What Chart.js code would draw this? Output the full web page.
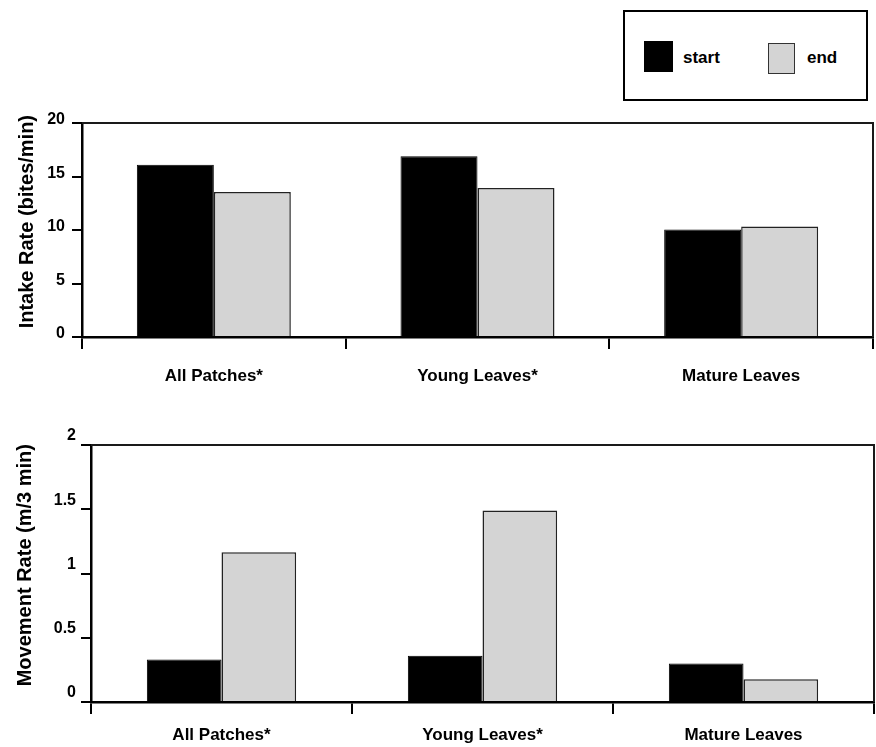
<!DOCTYPE html>
<html>
<head>
<meta charset="utf-8">
<script src="https://cdn.jsdelivr.net/npm/chart.js@4"></script>
<style>
  body { margin: 0; background: #fff; font-family: "Liberation Sans", Arial, Helvetica, sans-serif; }
  #page { position: relative; width: 876px; height: 747px; }
  canvas { position: absolute; left: 0; }
  #IntakeChart { top: 100px; }
  #MovementChart { top: 410px; }
  #legend { position: absolute; left: 623px; top: 10px; width: 245px; height: 91px;
            box-sizing: border-box; border: 2px solid #000; }
  .swatch { position: absolute; box-sizing: border-box; }
  .lbl { position: absolute; font-weight: bold; font-size: 17px; line-height: 20px; color: #000; }
</style>
</head>
<body>
<div id="page">
  <div id="legend"></div>
  <canvas id="IntakeChart" width="876" height="300"></canvas>
  <canvas id="MovementChart" width="876" height="337"></canvas>
</div>
<script>
const categories = ['All Patches*', 'Young Leaves*', 'Mature Leaves']
const seriesNames = ['start', 'end']
const intakeStart = [16.1, 16.9, 10.05]
const intakeEnd = [13.55, 13.93, 10.32]
const moveStart = [0.33, 0.36, 0.30]
const moveEnd = [1.165, 1.49, 0.177]
const intakeTicks = [0, 5, 10, 15, 20]
const moveTicks = [0, 0.5, 1, 1.5, 2]

Chart.defaults.font.family = '"Liberation Sans", Arial, Helvetica, sans-serif'
Chart.defaults.font.weight = 'bold'
Chart.defaults.color = '#000'

// top and right edge of the plot box
const framePlugin = {
    id: 'frame',
    afterDraw(chart) {
        const {ctx, chartArea} = chart
        ctx.save()
        ctx.strokeStyle = '#1a1a1a'
        ctx.lineWidth = 2
        ctx.beginPath()
        ctx.moveTo(chartArea.left, chartArea.top)
        ctx.lineTo(chartArea.right, chartArea.top)
        ctx.lineTo(chartArea.right, chartArea.bottom)
        ctx.stroke()
        ctx.restore()
    }
}

const makeChart = (element, startValues, endValues, tickValues, cfg) => {
    const ctl = document.getElementById(element)
    return new Chart(ctl, {
        type: 'bar',
        data: {
            labels: categories,
            datasets: [
                {
                    label: seriesNames[0],
                    data: startValues,
                    backgroundColor: '#000',
                    borderColor: '#000',
                    borderWidth: 1
                },
                {
                    label: seriesNames[1],
                    data: endValues,
                    backgroundColor: '#d4d4d4',
                    borderColor: '#222',
                    borderWidth: 1.5
                }
            ]
        },
        options: {
            responsive: false,
            animation: false,
            categoryPercentage: cfg.catPct,
            barPercentage: 1,
            layout: {
                padding: {top: cfg.padTop, right: cfg.padRight, left: 0, bottom: 0}
            },
            plugins: {
                legend: {display: false},
                tooltip: {enabled: false}
            },
            scales: {
                x: {
                    afterFit: (scale) => { scale.height = cfg.xHeight },
                    grid: {drawOnChartArea: false, offset: true, color: '#000', lineWidth: 2, tickLength: 12},
                    border: {color: '#000', width: 2.5},
                    ticks: {font: {size: 17, weight: 'bold'}, padding: cfg.xPad, maxRotation: 0}
                },
                y: {
                    min: 0,
                    max: tickValues[tickValues.length - 1],
                    afterFit: (scale) => { scale.width = cfg.yWidth },
                    afterBuildTicks: (scale) => { scale.ticks = tickValues.map(v => ({value: v})) },
                    grid: {drawOnChartArea: false, color: '#000', lineWidth: 2, tickLength: 10},
                    border: {color: '#000', width: 2.5},
                    ticks: {
                        font: {size: 16, weight: 'bold'},
                        padding: cfg.yPad,
                        labelOffset: cfg.labelOffset,
                        callback: (value) => String(value)
                    },
                    title: {
                        display: true,
                        // leading spaces nudge the title up a little, like the original
                        text: '\u00a0\u00a0\u00a0' + cfg.title,
                        font: {size: 20, weight: 'bold'},
                        padding: {top: cfg.titlePad, bottom: 0}
                    }
                }
            }
        },
        plugins: [framePlugin]
    })
}

makeChart('IntakeChart', intakeStart, intakeEnd, intakeTicks, {
    title: 'Intake Rate (bites/min)',
    catPct: 0.584, padTop: 23, padRight: 3, xHeight: 63, yWidth: 82,
    xPad: 17, yPad: 7, labelOffset: -3, titlePad: 15
})

makeChart('MovementChart', moveStart, moveEnd, moveTicks, {
    title: 'Movement Rate (m/3 min)',
    catPct: 0.572, padTop: 35, padRight: 2, xHeight: 45, yWidth: 91,
    xPad: 11, yPad: 5, labelOffset: -9, titlePad: 13
})

// legend box, built from the series names
const legend = document.getElementById('legend')
const legendItems = [
    {swatch: {left: 19, top: 29, width: 29, height: 31, background: '#000', border: 'none'}, text: {left: 58}},
    {swatch: {left: 143, top: 31, width: 27, height: 31, background: '#d4d4d4', border: '1px solid #333'}, text: {left: 182}}
]
seriesNames.forEach((name, i) => {
    const it = legendItems[i]
    const sw = document.createElement('div')
    sw.className = 'swatch'
    Object.assign(sw.style, {
        left: it.swatch.left + 'px', top: it.swatch.top + 'px',
        width: it.swatch.width + 'px', height: it.swatch.height + 'px',
        background: it.swatch.background, border: it.swatch.border
    })
    legend.appendChild(sw)
    const tx = document.createElement('div')
    tx.className = 'lbl'
    tx.style.left = it.text.left + 'px'
    tx.style.top = '36px'
    tx.textContent = name
    legend.appendChild(tx)
})
</script>
</body>
</html>
